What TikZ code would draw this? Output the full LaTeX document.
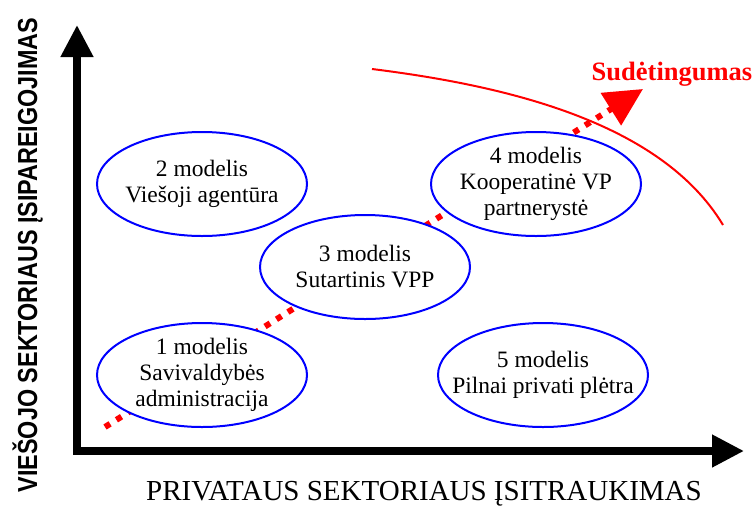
\documentclass[tikz,border=0pt]{standalone}
\usepackage{fontspec}
\setmainfont{Liberation Serif}
\setsansfont{Liberation Sans}
\usetikzlibrary{shapes,arrows.meta,positioning}

\begin{document}
\begin{tikzpicture}[x=1pt, y=-1pt]
  \tikzstyle{model}=[ellipse, draw=blue, line width=2pt, fill=white, minimum width=210pt, minimum height=104pt, inner xsep=-20pt, inner ysep=0pt, align=center, font=\fontsize{23.5}{26}\selectfont]
  \tikzstyle{axis}=[line width=7.5pt, line join=miter, {Triangle[length=32pt, width=31pt]}-{Triangle[length=32pt, width=31pt]}]
  \tikzstyle{trend}=[red, line width=6pt, dash pattern=on 6pt off 7.5pt, -{Triangle[length=38pt, width=37pt]}]
  \useasboundingbox (0,0) rectangle (754,507);

  % Asys
  \coordinate (ytop) at (77,25);
  \coordinate (xend) at (744,451);
  \draw[axis] (ytop) |- (xend);
  \node[rotate=90, anchor=base, font=\sffamily\bfseries\fontsize{27.5}{30}\selectfont] (ylab) at (37,255) {\scalebox{0.85}[1]{VIEŠOJO SEKTORIAUS ĮSIPAREIGOJIMAS}};
  \node[anchor=base, font=\fontsize{29}{31}\selectfont] (xlab) at (424,500) {PRIVATAUS SEKTORIAUS ĮSITRAUKIMAS};

  % Sudetingumo kryptis
  \coordinate (s0) at (105,427);
  \coordinate (s1) at (643,89);
  \draw[trend] (s0) -- (s1);
  \node[anchor=base, red, font=\bfseries\fontsize{26.5}{28}\selectfont] (sud) at (672,80) {Sudėtingumas};

  % Modeliai
  \node[model] (m1) at (202,375) {1 modelis\\Savivaldybės\\administracija};
  \node[model] (m2) at (202,184) {2 modelis\\Viešoji agentūra};
  \node[model] (m3) at (365,267) {3 modelis\\Sutartinis VPP};
  \node[model] (m4) at (536,184) {4 modelis\\Kooperatinė VP\\partnerystė};
  \node[model] (m5) at (543,375) {5 modelis\\Pilnai privati plėtra};

  % Riba
  \draw[red, line width=2pt] (372,69) .. controls (500,85) and (660,120) .. (723,225);
\end{tikzpicture}
\end{document}
